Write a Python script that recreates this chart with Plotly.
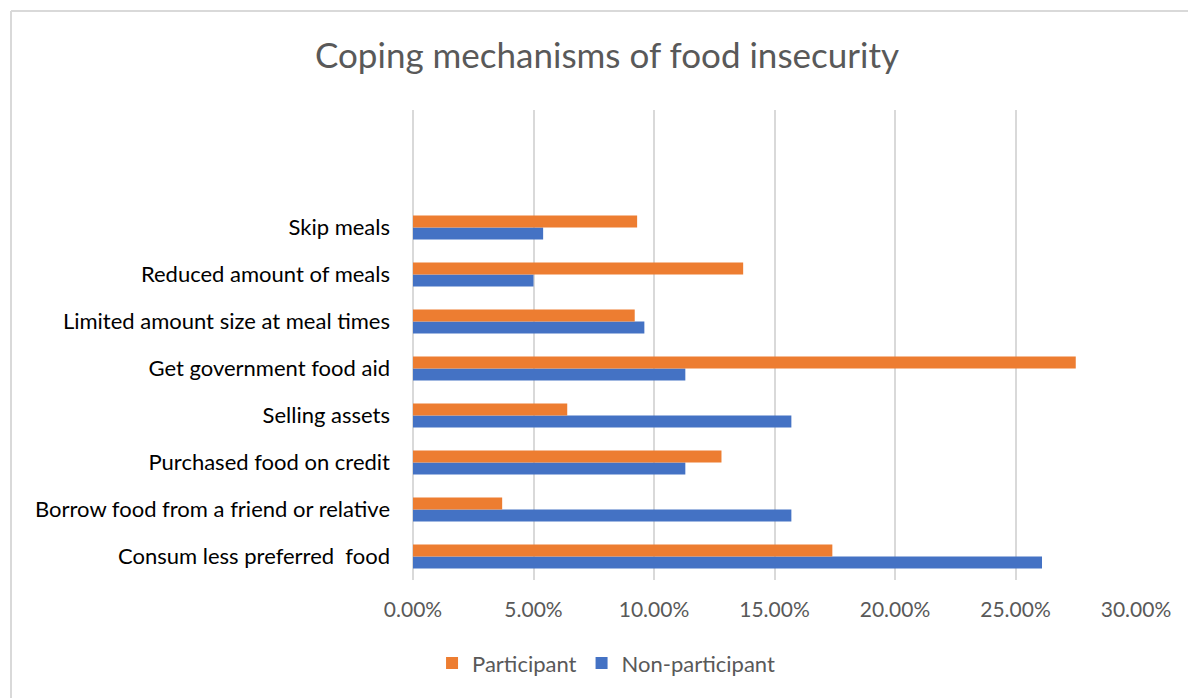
import plotly.graph_objects as go

# Coping strategies, listed bottom to top on the category axis
categories = [
    "Consum less preferred  food",
    "Borrow food from a friend or relative",
    "Purchased food on credit",
    "Selling assets",
    "Get government food aid",
    "Limited amount size at meal times",
    "Reduced amount of meals",
    "Skip meals",
]
participant = [0.174, 0.037, 0.128, 0.064, 0.275, 0.092, 0.137, 0.093]
non_participant = [0.261, 0.157, 0.113, 0.157, 0.113, 0.096, 0.050, 0.054]
x_ticks = [0.0, 0.05, 0.10, 0.15, 0.20, 0.25, 0.30]
x_tick_labels = ["0.00%", "5.00%", "10.00%", "15.00%", "20.00%", "25.00%", "30.00%"]

W, H = 1188, 698
ML, MR, MT, MB = 413, 52, 110, 118
FONT = "Lato, 'Open Sans', sans-serif"

fig = go.Figure()
fig.add_trace(go.Bar(
    y=categories, x=non_participant, orientation="h", name="Non-participant",
    marker=dict(color="#4472C4", line=dict(width=0)),
))
fig.add_trace(go.Bar(
    y=categories, x=participant, orientation="h", name="Participant",
    marker=dict(color="#ED7D31", line=dict(width=0)),
))

# outer chart frame (top and left edges)
pw, ph = W - ML - MR, H - MT - MB
x0 = (11 - ML) / pw
y0 = 1 + (MT - 11) / ph
fig.add_shape(type="line", xref="paper", yref="paper",
              x0=x0, x1=(W + 10 - ML) / pw, y0=y0, y1=y0,
              line=dict(color="#D9D9D9", width=2))
fig.add_shape(type="line", xref="paper", yref="paper",
              x0=x0, x1=x0, y0=y0, y1=-(MB + 10) / ph,
              line=dict(color="#D9D9D9", width=2))

fig.update_layout(
    width=W, height=H,
    margin=dict(l=ML, r=MR, t=MT, b=MB),
    paper_bgcolor="white", plot_bgcolor="white",
    barmode="group", bargap=0.49, bargroupgap=0,
    title=dict(text="Coping mechanisms of food insecurity",
               x=607 / W, xanchor="center", y=1 - 56 / H, yanchor="middle",
               font=dict(family=FONT, size=35, color="#595959")),
    xaxis=dict(range=[0, 0.30], tickvals=x_ticks, ticktext=x_tick_labels,
               showgrid=True, gridcolor="#D9D9D9", gridwidth=2,
               zeroline=True, zerolinecolor="#D9D9D9", zerolinewidth=2,
               showline=False, ticks="", ticklabelstandoff=15,
               tickfont=dict(family=FONT, size=21, color="#595959")),
    yaxis=dict(range=[-0.5, 9.5], categoryorder="array", categoryarray=categories,
               showgrid=False, zeroline=False, showline=False, ticks="",
               ticklabelstandoff=22,
               tickfont=dict(family=FONT, size=22, color="#000000")),
    legend=dict(orientation="h", x=0.267, xanchor="center", y=-0.177, yanchor="middle",
                traceorder="reversed",
                font=dict(family=FONT, size=22, color="#595959")),
    showlegend=True,
)

fig.write_html("out.html")
